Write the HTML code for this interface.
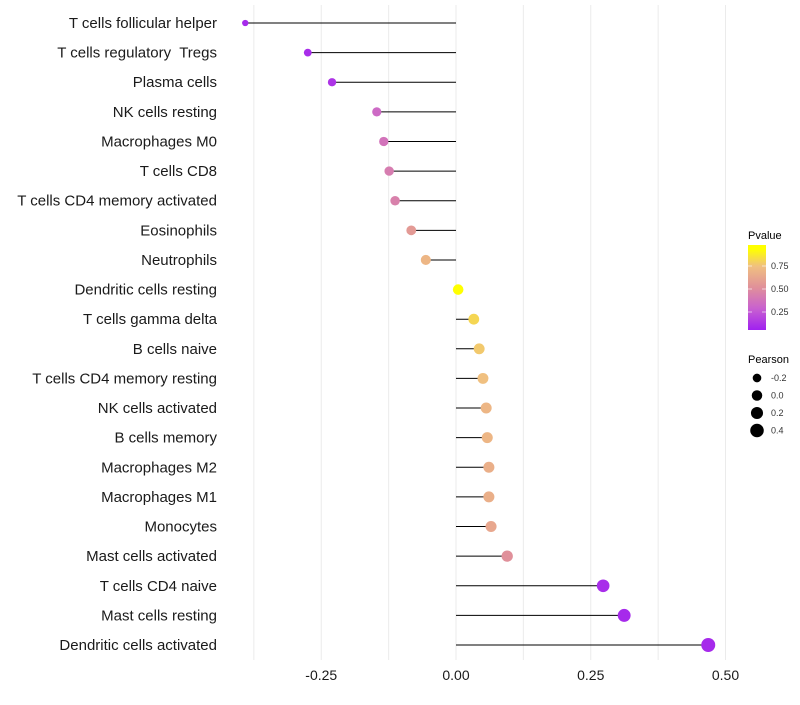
<!DOCTYPE html>
<html><head><meta charset="utf-8"><style>
body{margin:0;background:#fff;font-family:"Liberation Sans",sans-serif}
svg text{font-family:"Liberation Sans",sans-serif;white-space:pre}
</style></head><body>
<svg id="c" width="800" height="700" xmlns="http://www.w3.org/2000/svg"></svg>
<script>
const categories=["T cells follicular helper","T cells regulatory  Tregs","Plasma cells","NK cells resting","Macrophages M0","T cells CD8","T cells CD4 memory activated","Eosinophils","Neutrophils","Dendritic cells resting","T cells gamma delta","B cells naive","T cells CD4 memory resting","NK cells activated","B cells memory","Macrophages M2","Macrophages M1","Monocytes","Mast cells activated","T cells CD4 naive","Mast cells resting","Dendritic cells activated"];
const pearson=[-0.391,-0.275,-0.230,-0.147,-0.134,-0.124,-0.113,-0.083,-0.056,0.004,0.033,0.043,0.050,0.056,0.058,0.061,0.061,0.065,0.095,0.273,0.312,0.468];
const pvalue=[0.04,0.05,0.08,0.3,0.35,0.4,0.42,0.55,0.7,0.95,0.82,0.78,0.75,0.7,0.7,0.66,0.66,0.62,0.5,0.05,0.04,0.04];
const xTicks=[-0.25,0,0.25,0.5];
const xTickLabels=["-0.25","0.00","0.25","0.50"];
const gridVals=[-0.375,-0.25,-0.125,0,0.125,0.25,0.375,0.5];
const legendP=[0.25,0.5,0.75];
const legendR=[-0.2,0,0.2,0.4];

const NS="http://www.w3.org/2000/svg";
const svg=document.getElementById('c');
function el(t,a,p){const e=document.createElementNS(NS,t);for(const k in a)e.setAttribute(k,a[k]);(p||svg).appendChild(e);return e;}
const x=v=>456+v*539;
const y=i=>23+i*(622/21);
const rad=v=>Math.sqrt(Math.max(1.5,27.7+45*v));
const stops=[[0,[160,32,240]],[0.25,[200,96,208]],[0.5,[224,144,154]],[0.75,[240,192,128]],[0.95,[255,255,0]],[1,[255,255,0]]];
function col(p){for(let i=0;i<stops.length-1;i++){const a=stops[i],b=stops[i+1];if(p<=b[0]){const t=(p-a[0])/(b[0]-a[0]);const c=a[1].map((v,j)=>Math.round(v+(b[1][j]-v)*t));return `rgb(${c})`;}}return 'rgb(255,255,0)';}

gridVals.forEach(g=>{const l=el('line',{x1:x(g),x2:x(g),y1:5,y2:660,stroke:'#ebebeb','stroke-width':1});

});
xTicks.forEach((t,i)=>{const tx=el('text',{x:x(t),y:680,'text-anchor':'middle','font-size':14,fill:'#1a1a1a'});tx.textContent=xTickLabels[i];

});
categories.forEach((c,i)=>{
const t=el('text',{x:217,y:y(i)+5,'text-anchor':'end','font-size':15,fill:'#1a1a1a'});t.textContent=c;


const l=el('line',{x1:x(0),x2:x(pearson[i]),y1:y(i),y2:y(i),stroke:'#000','stroke-width':1});


const p=el('circle',{cx:x(pearson[i]),cy:y(i),r:rad(pearson[i]),fill:col(pvalue[i])});


});
const lt=el('text',{x:748,y:239,'font-size':11});lt.textContent='Pvalue';


const defs=el('defs',{});const lg=el('linearGradient',{id:'g',x1:0,y1:1,x2:0,y2:0},defs);
stops.forEach(s=>el('stop',{offset:s[0],'stop-color':col(s[0])},lg));
const bar=el('rect',{x:748,y:245,width:18,height:85,fill:'url(#g)'});


legendP.forEach(v=>{const yy=335-v*92;
el('line',{x1:748,x2:752,y1:yy,y2:yy,stroke:'#fff','stroke-opacity':0.6});el('line',{x1:762,x2:766,y1:yy,y2:yy,stroke:'#fff','stroke-opacity':0.6});
const t=el('text',{x:771,y:yy+3,'font-size':9,fill:'#333'});t.textContent=v.toFixed(2);

});
const pt=el('text',{x:748,y:363,'font-size':11});pt.textContent='Pearson';


legendR.forEach((v,i)=>{const yy=378+i*17.5;
const c=el('circle',{cx:757,cy:yy,r:rad(v),fill:'#000'});


const t=el('text',{x:771,y:yy+3,'font-size':9,fill:'#333'});t.textContent=v.toFixed(1);

});
</script>
</body></html>
